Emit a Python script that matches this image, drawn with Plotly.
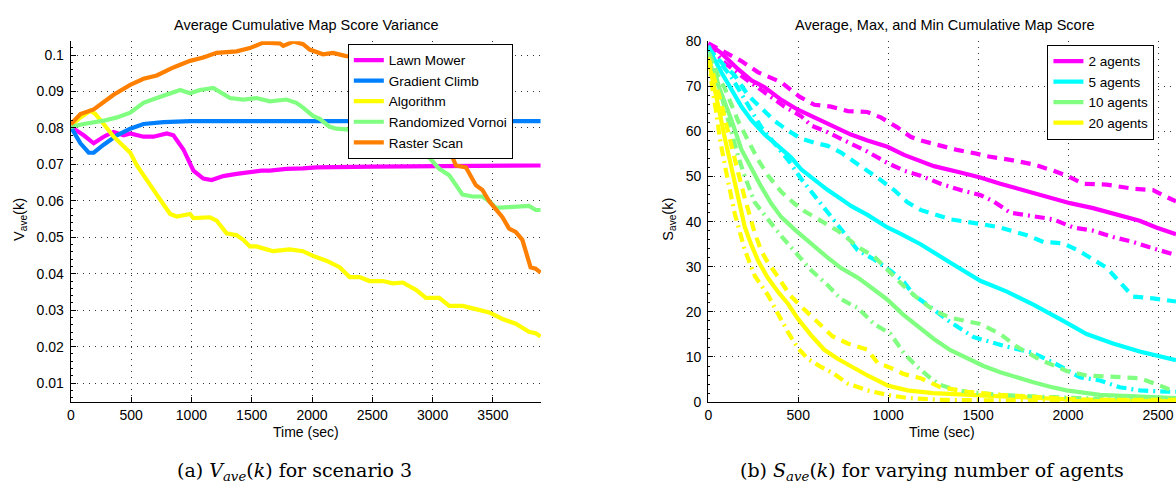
import plotly.graph_objects as go

# ---------------- Left panel: Average Cumulative Map Score Variance ----------------
lawn_t = [0,107,190,273,355,438,493,603,686,796,851,934,1017,1099,1168,1264,1375,1485,1581,1650,1788,1926,2036,2500,3000,3500,3895]
lawn_v = [0.0803,0.0780,0.0758,0.0776,0.0789,0.0780,0.0785,0.0776,0.0776,0.0785,0.0780,0.0741,0.0683,0.0661,0.0657,0.0668,0.0674,0.0679,0.0683,0.0683,0.0688,0.0689,0.0692,0.0694,0.0696,0.0697,0.0697]

grad_t = [0,80,149,190,273,383,493,603,769,989,3895]
grad_v = [0.0803,0.0758,0.0732,0.0732,0.0754,0.0780,0.0798,0.0811,0.0816,0.0819,0.0819]

algo_t = [0,80,162,204,273,355,438,493,548,603,658,713,769,824,879,989,1017,1154,1209,1292,
          1375,1430,1485,1540,1623,1678,1815,1926,2008,2119,2229,2312,2394,2477,2587,2669,2752,2862,2945,3055,
          3138,3248,3358,3469,3579,3689,3799,3854,3895]
algo_v = [0.0806,0.0829,0.0847,0.0838,0.0811,0.0776,0.0750,0.0732,0.0697,0.0670,0.0639,0.0617,0.0590,0.0564,0.0557,0.0564,0.0553,0.0555,0.0546,0.0511,
          0.0506,0.0493,0.0475,0.0475,0.0467,0.0462,0.0467,0.0462,0.0449,0.0436,0.0418,0.0391,0.0391,0.0380,0.0380,0.0374,0.0376,0.0356,0.0334,0.0334,
          0.0312,0.0312,0.0303,0.0294,0.0276,0.0263,0.0241,0.0237,0.0228]

vor_t = [0,107,273,383,493,603,713,824,907,989,1072,1182,1264,1320,1430,1540,1650,1788,1870,1926,
         2008,2064,2147,2202,2284,2500,2700,2766,2807,2890,2972,3055,3138,3193,3248,3331,3413,3469,3524,3634,
         3799,3854,3895]
vor_v = [0.0803,0.0811,0.0820,0.0829,0.0842,0.0869,0.0882,0.0895,0.0904,0.0895,0.0904,0.0910,0.0895,0.0882,0.0878,0.0882,0.0873,0.0878,0.0869,0.0856,
         0.0833,0.0825,0.0803,0.0798,0.0796,0.0790,0.0780,0.0772,0.0758,0.0741,0.0719,0.0688,0.0670,0.0644,0.0617,0.0612,0.0612,0.0599,0.0581,0.0583,
         0.0586,0.0575,0.0575]

ras_t = [0,80,190,355,493,603,713,851,989,1099,1209,1375,1485,1595,1733,1762,1845,1926,1981,2036,
         2091,2174,2284,2500,2700,2850,2950,3050,3096,3138,3193,3276,3358,3413,3469,3502,3579,3634,3689,3744,
         3785,3812,3854,3895]
ras_v = [0.0810,0.0838,0.0851,0.0891,0.0918,0.0935,0.0944,0.0966,0.0984,0.0993,0.1006,0.1010,0.1019,0.1034,0.1032,0.1025,0.1037,0.1030,0.1015,0.1010,
         0.1002,0.1006,0.0997,0.0995,0.0990,0.0950,0.0880,0.0800,0.0771,0.0741,0.0697,0.0692,0.0643,0.0630,0.0599,0.0586,0.0555,0.0524,0.0515,0.0493,
         0.0445,0.0418,0.0414,0.0403]

left_x_ticks = [0, 500, 1000, 1500, 2000, 2500, 3000, 3500]
left_y_ticks = [0.01, 0.02, 0.03, 0.04, 0.05, 0.06, 0.07, 0.08, 0.09, 0.1]
left_y_labels = ["0.01", "0.02", "0.03", "0.04", "0.05", "0.06", "0.07", "0.08", "0.09", "0.1"]

# ---------------- Right panel: Average, Max, and Min Cumulative Map Score ----------------
a2_avg_t = [0,74,166,240,313,406,498,609,701,793,885,996,1088,1180,1254,1402,1512,1623,1752,1882,2011,2139,2269,2398,2490,2600]
a2_avg_s = [79.5,77.3,73.8,71.3,69.8,67.0,64.8,62.7,61.0,59.3,58.0,56.6,54.8,53.4,52.3,50.9,49.8,48.4,47.0,45.5,44.1,43.0,41.6,40.2,38.7,37.2]
a2_max_t = [0,111,184,277,406,507,590,682,775,885,959,1051,1125,1180,1273,1383,1475,1550,1678,1807,1918,1992,2084,2214,2361,2472,2546,2600]
a2_max_s = [79.5,77.3,75.6,73.1,70.9,67.7,65.9,65.5,64.5,64.3,63.1,60.9,58.8,58.0,57.0,55.9,55.2,54.5,53.7,52.7,51.3,50.2,48.4,48.2,47.3,47.0,45.5,44.5]
a2_min_t = [0,92,184,258,332,424,516,572,664,775,885,996,1088,1180,1291,1402,1512,1586,1678,1807,1918,2029,2139,2250,2361,2472,2600]
a2_min_s = [79.0,75.2,72.3,70.2,68.1,65.5,63.4,61.3,59.8,57.7,55.5,53.0,51.3,50.2,48.4,47.0,45.9,44.5,42.0,41.2,40.5,38.7,38.0,36.6,35.5,34.1,32.6]

a5_avg_t = [0,37,74,111,147,184,240,313,387,461,516,590,664,738,793,885,996,1070,1180,1346,1512,1660,1807,1973,2103,2250,2398,2600]
a5_avg_s = [78.5,75.5,73.0,70.5,68.0,65.5,62.5,59.3,56.8,54.2,51.6,49.3,47.0,45.0,43.5,41.5,38.7,37.3,35.0,30.9,26.9,24.5,21.6,18.0,15.1,13.0,11.2,9.3]
a5_max_t = [0,18,92,147,221,295,369,443,516,590,664,738,811,885,959,1033,1107,1180,1346,1512,1623,1771,1863,1973,2066,2139,2214,2287,2361,2472,2600]
a5_max_s = [79.0,77.5,74.5,72.4,68.0,65.0,62.3,60.2,58.4,57.5,56.8,55.3,53.3,51.5,49.2,47.0,44.3,42.6,40.5,39.5,38.7,37.0,35.5,35.2,33.4,31.6,29.8,26.6,23.4,23.0,22.3]
a5_min_t = [0,18,129,184,240,295,369,443,516,572,609,645,701,775,830,922,1014,1088,1143,1217,1346,1475,1660,1807,1955,2066,2177,2287,2398,2546,2600]
a5_min_s = [78.5,77.7,72.0,68.4,64.5,60.9,57.3,53.7,49.5,46.6,44.5,43.0,40.2,36.6,33.7,31.6,29.1,26.6,23.7,21.6,17.7,14.4,12.3,10.9,8.0,5.5,4.8,3.3,2.6,2.3,2.3]

a10_avg_t = [0,18,74,129,184,240,295,350,406,479,572,664,738,830,885,996,1080,1180,1254,1346,1439,1530,1623,1715,1807,1900,1992,2177,2361,2600]
a10_avg_s = [77.0,74.0,68.3,62.5,56.0,51.6,47.7,44.0,41.0,38.3,35.0,32.0,29.7,27.6,26.0,22.7,19.5,16.3,14.0,11.5,9.6,8.0,6.6,5.4,4.4,3.4,2.6,1.6,1.2,0.9]
a10_max_t = [0,9,55,92,129,166,221,277,332,406,479,535,600,660,719,775,830,922,1033,1100,1180,1260,1346,1430,1512,1623,1715,1845,1992,2103,2250,2398,2509,2600]
a10_max_s = [77.5,77.0,72.3,69.5,65.9,62.3,58.0,53.7,50.2,46.6,44.0,42.3,40.8,39.5,38.0,36.3,34.4,32.3,28.0,25.2,22.5,20.2,18.7,18.0,17.3,15.1,12.3,9.4,6.9,5.9,5.5,5.3,3.7,2.2]
a10_min_t = [0,18,55,92,129,166,203,258,332,406,498,572,664,738,830,922,1014,1088,1162,1230,1291,1370,1439,1623,1900,2200,2600]
a10_min_s = [77.0,75.9,70.5,65.0,59.5,54.5,50.0,44.3,40.5,36.8,32.6,29.2,25.9,22.8,20.9,17.3,15.1,10.8,7.8,5.5,3.8,2.8,2.3,1.6,1.1,0.7,0.5]

a20_avg_t = [0,18,37,64,92,120,147,175,203,240,277,330,390,443,498,572,645,719,775,885,996,1107,1250,1439,1620,1807,2000,2300,2600]
a20_avg_s = [76.0,72.8,69.0,64.0,58.5,53.5,48.5,43.5,38.8,34.8,31.3,27.6,24.3,21.8,18.5,14.8,11.6,9.6,8.3,5.9,3.7,2.6,2.0,1.6,1.2,0.9,0.6,0.4,0.3]
a20_max_t = [0,37,74,100,129,166,203,221,258,295,330,387,452,516,609,690,775,885,941,1014,1088,1180,1291,1439,1623,1900,2100,2600]
a20_max_s = [76.5,71.5,66.0,61.5,56.6,50.9,45.2,42.8,37.5,33.5,31.0,27.8,23.8,21.2,17.6,14.6,13.0,11.6,8.7,7.6,6.2,5.3,3.3,2.3,1.6,1.0,0.5,0.5]
a20_min_t = [0,9,28,46,64,92,120,147,203,258,332,387,443,498,553,627,701,775,885,996,1107,1300,1600,2000,2600]
a20_min_s = [76.0,73.1,68.1,63.8,58.5,52.5,47.0,41.8,33.7,28.0,23.7,19.6,15.5,12.0,9.6,7.8,6.2,4.1,2.6,1.6,0.9,0.5,0.3,0.2,0.2]

right_x_ticks = [0, 500, 1000, 1500, 2000, 2500]
right_y_ticks = [0, 10, 20, 30, 40, 50, 60, 70, 80]

# ---------------- Styling ----------------
FONT = "Liberation Sans, Arial, Helvetica, sans-serif"
LW = 4.2
c_mag, c_blue, c_yel, c_grn, c_org, c_cyan = "#FF00FF", "#0080FF", "#FFFF00", "#80FF80", "#FF8000", "#00FFFF"
DASH = "10px,7px"
DASHDOT = "10px,5px,2px,5px"

fig = go.Figure()

left_series = [
    ("Lawn Mower", lawn_t, lawn_v, c_mag),
    ("Gradient Climb", grad_t, grad_v, c_blue),
    ("Algorithm", algo_t, algo_v, c_yel),
    ("Randomized Vornoi", vor_t, vor_v, c_grn),
    ("Raster Scan", ras_t, ras_v, c_org),
]
for name, t, v, c in left_series:
    fig.add_trace(go.Scatter(x=t, y=v, mode="lines", name=name,
                             line=dict(color=c, width=LW),
                             xaxis="x", yaxis="y", legend="legend"))

right_series = [
    ("2 agents", c_mag, (a2_avg_t, a2_avg_s), (a2_max_t, a2_max_s), (a2_min_t, a2_min_s)),
    ("5 agents", c_cyan, (a5_avg_t, a5_avg_s), (a5_max_t, a5_max_s), (a5_min_t, a5_min_s)),
    ("10 agents", c_grn, (a10_avg_t, a10_avg_s), (a10_max_t, a10_max_s), (a10_min_t, a10_min_s)),
    ("20 agents", c_yel, (a20_avg_t, a20_avg_s), (a20_max_t, a20_max_s), (a20_min_t, a20_min_s)),
]
for name, c, avg, mx, mn in right_series:
    fig.add_trace(go.Scatter(x=avg[0], y=avg[1], mode="lines", name=name,
                             line=dict(color=c, width=LW),
                             xaxis="x2", yaxis="y2", legend="legend2"))
for name, c, avg, mx, mn in right_series:
    fig.add_trace(go.Scatter(x=mx[0], y=mx[1], mode="lines", name=name + " max", showlegend=False,
                             line=dict(color=c, width=LW, dash=DASH),
                             xaxis="x2", yaxis="y2"))
    fig.add_trace(go.Scatter(x=mn[0], y=mn[1], mode="lines", name=name + " min", showlegend=False,
                             line=dict(color=c, width=LW, dash=DASHDOT),
                             xaxis="x2", yaxis="y2"))

W, H = 1176, 494
ydom = [(H - 407.3) / H, (H - 34.3) / H]

common_axis = dict(showline=True, linecolor="black", linewidth=1.2, ticks="inside", ticklen=5,
                   tickcolor="black", showgrid=True, gridcolor="#333333", gridwidth=1,
                   griddash="1px,5px", zeroline=False, mirror=False,
                   tickfont=dict(family=FONT, size=14, color="black"))

fig.update_layout(
    width=W, height=H, margin=dict(l=0, r=0, t=0, b=0),
    paper_bgcolor="white", plot_bgcolor="white",
    showlegend=True,
    xaxis=dict(domain=[67 / W, 539 / W], range=[0, 3900], tickvals=left_x_ticks,
               anchor="y", **common_axis),
    yaxis=dict(domain=ydom, range=[0.0048, 0.1038], tickvals=left_y_ticks, ticktext=left_y_labels,
               anchor="x", ticklabelstandoff=3,
               minor=dict(ticks="inside", ticklen=2, tickcolor="black", dtick=0.002, showgrid=False),
               **common_axis),
    xaxis2=dict(domain=[706.7 / W, 1.0], range=[0, 2600], tickvals=right_x_ticks,
                anchor="y2", **common_axis),
    yaxis2=dict(domain=ydom, range=[0, 80], tickvals=right_y_ticks,
                anchor="x2", ticklabelstandoff=3,
                minor=dict(ticks="inside", ticklen=2, tickcolor="black", dtick=2, showgrid=False),
                **common_axis),
    legend=dict(x=345 / W, y=1 - 37 / H, xanchor="left", yanchor="top",
                bgcolor="white", bordercolor="black", borderwidth=1,
                entrywidth=140, entrywidthmode="pixels",
                font=dict(family=FONT, size=13.5, color="black"), tracegroupgap=0),
    legend2=dict(x=1047 / W, y=1 - 38 / H, xanchor="left", yanchor="top",
                 bgcolor="white", bordercolor="black", borderwidth=1,
                 entrywidth=78, entrywidthmode="pixels",
                 font=dict(family=FONT, size=13.5, color="black"), tracegroupgap=0),
)

annots = [
    dict(text="Average Cumulative Map Score Variance", x=304 / W, y=1 - 18 / H, size=14.5),
    dict(text="Average, Max, and Min Cumulative Map Score", x=944 / W, y=1 - 18 / H, size=14.5),
    dict(text="Time (sec)", x=303 / W, y=1 - 438 / H, size=14),
    dict(text="Time (sec)", x=941 / W, y=1 - 438 / H, size=14),
]
for a in annots:
    fig.add_annotation(text=a["text"], x=a["x"], y=a["y"], xref="paper", yref="paper",
                       xanchor="center", yanchor="middle", showarrow=False,
                       font=dict(family=FONT, size=a["size"], color="black"))

fig.add_annotation(text="V<sub>ave</sub>(k)", x=16 / W, y=1 - 218 / H, xref="paper", yref="paper",
                   xanchor="center", yanchor="middle", showarrow=False, textangle=-90,
                   font=dict(family=FONT, size=14.5, color="black"))
fig.add_annotation(text="S<sub>ave</sub>(k)", x=667 / W, y=1 - 218 / H, xref="paper", yref="paper",
                   xanchor="center", yanchor="middle", showarrow=False, textangle=-90,
                   font=dict(family=FONT, size=14.5, color="black"))

SERIF = "DejaVu Serif, Liberation Serif, serif"
fig.add_annotation(text="(a) <i>V<sub>ave</sub></i>(<i>k</i>) for scenario 3", x=291 / W, y=1 - 479 / H,
                   xref="paper", yref="paper", xanchor="center", yanchor="middle", showarrow=False,
                   font=dict(family=SERIF, size=19, color="black"))
fig.add_annotation(text="(b) <i>S<sub>ave</sub></i>(<i>k</i>) for varying number of agents", x=931 / W, y=1 - 479 / H,
                   xref="paper", yref="paper", xanchor="center", yanchor="middle", showarrow=False,
                   font=dict(family=SERIF, size=19, color="black"))

fig.write_html("out.html")
